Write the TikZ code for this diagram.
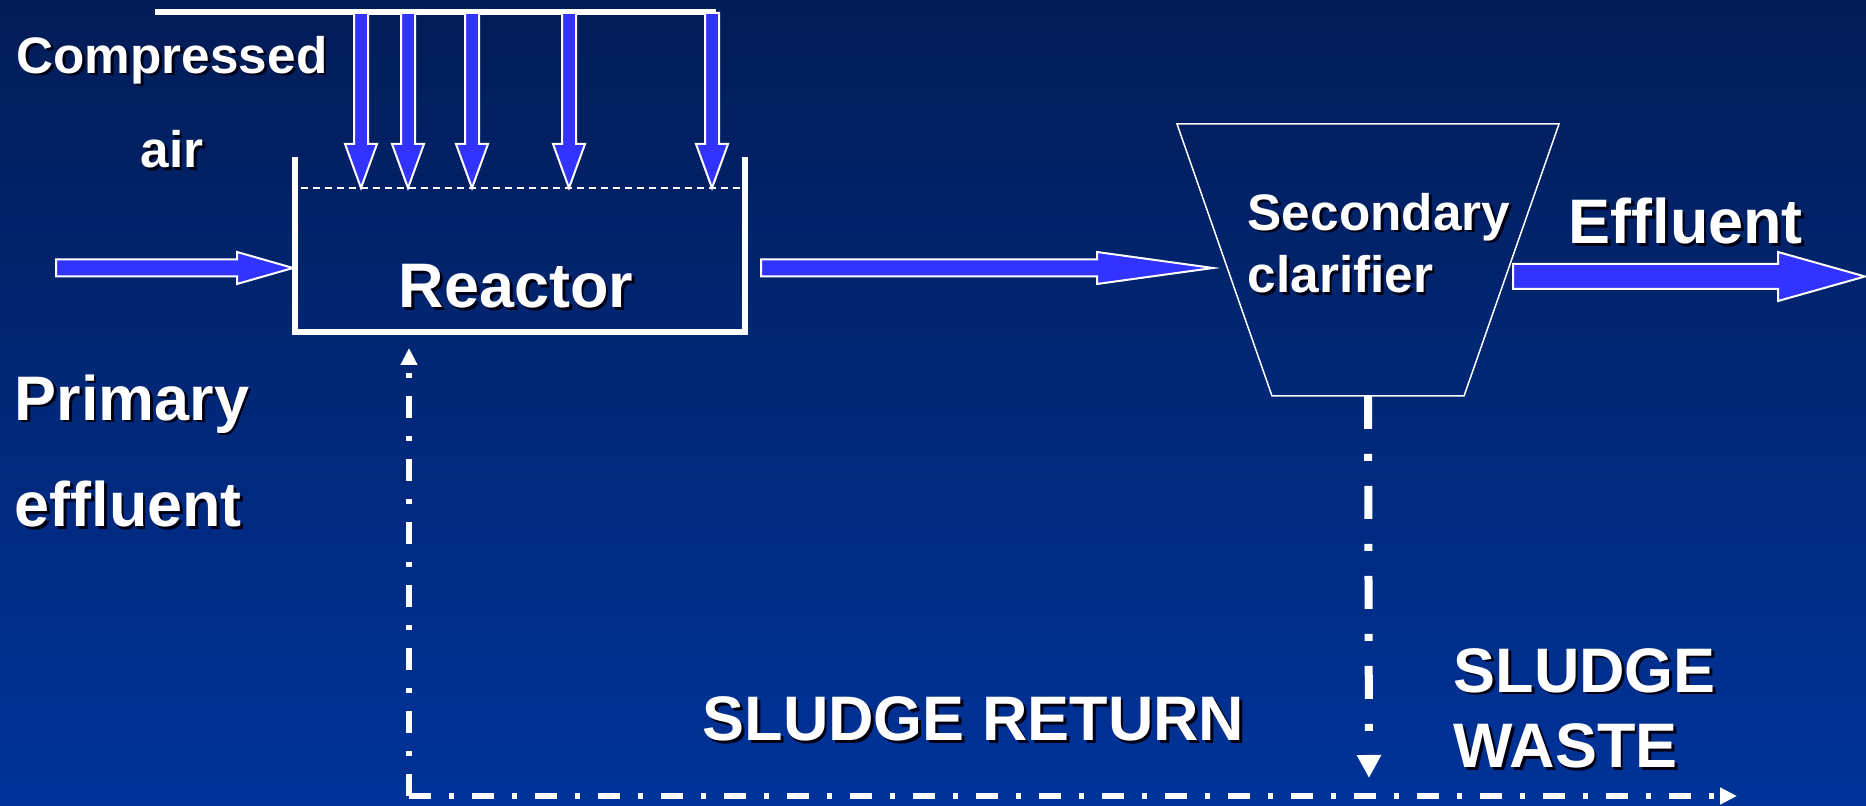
\documentclass[tikz,border=0pt]{standalone}
\usepackage{fontspec}
\setmainfont{Liberation Sans}
\usetikzlibrary{calc,arrows.meta}

\definecolor{bgtop}{RGB}{2,28,86}
\definecolor{bgbot}{RGB}{0,51,153}
\definecolor{airblue}{RGB}{51,51,255}
\definecolor{txtshadow}{RGB}{0,0,20}

% white text with a small dark drop shadow
\newcommand{\shd}[1]{\makebox[0pt][l]{\kern0.8pt\raisebox{-0.8pt}{\textcolor{txtshadow}{#1}}}#1}

% fat blue arrow: from, to, half shaft, half head, head length
\newcommand{\flowarrow}[5]{%
  \path ($(#2)!#5!(#1)$) coordinate (fa-hb);
  \filldraw[flow] ($(#1)!#3!90:(#2)$) -- ($(fa-hb)!#3!90:(#2)$) -- ($(fa-hb)!#4!90:(#2)$) -- (#2)
    -- ($(fa-hb)!#4!-90:(#2)$) -- ($(fa-hb)!#3!-90:(#2)$) -- ($(#1)!#3!-90:(#2)$) -- cycle;}

\begin{document}
\begin{tikzpicture}[x=0.1mm,y=-0.1mm]
  \tikzstyle{flow}=[fill=airblue,draw=white,line width=0.2mm,line join=miter]
  \tikzstyle{wall}=[draw=white,line width=0.6mm]
  \tikzstyle{tank}=[minimum width=45mm,minimum height=17.5mm,inner sep=0pt,outer sep=0pt]
  \tikzstyle{clarbox}=[minimum width=38.2mm,minimum height=27.2mm,inner sep=0pt,outer sep=0pt]
  \tikzstyle{small}=[text=white,inner sep=0pt]
  \tikzstyle{returnline}=[white,line width=0.6mm,dash pattern=on 2.2mm off 1.8mm on 0.5mm off 1.8mm,
      -{Triangle[length=1.7mm,width=1.6mm]}]
  \tikzstyle{wasteline}=[white,line width=0.8mm,dash pattern=on 3.3mm off 2.5mm on 0.7mm off 2.5mm,
      -{Triangle[length=2.3mm,width=2.3mm]}]

  % background
  \useasboundingbox (0,0) rectangle (1866,806);
  \shade[top color=bgtop,bottom color=bgbot] (0,0) rectangle (1866,806);

  % reactor tank, open at the top
  \node[tank] (reactor) at (520,244.5) {};
  \draw[wall] (reactor.north west) -- (reactor.south west) -- (reactor.south east) -- (reactor.north east);
  \draw[white,line width=0.15mm,dash pattern=on 0.7mm off 0.5mm] (301,188) -- (740,188);
  \node[small,anchor=base,font={\bfseries\fontsize{17.9}{21}\selectfont}] (reactorlbl) at (516,308) {\shd{Reactor}};

  % compressed air header and diffusers
  \coordinate (hdrstart) at (155,12);
  \coordinate (hdrend) at (716,12);
  \draw[wall] (hdrstart) -- (hdrend);
  \foreach \x in {361,408,472,569,712} {
    \coordinate (airtop) at (\x,13);
    \coordinate (airtip) at (\x,188);
    \flowarrow{airtop}{airtip}{0.7mm}{1.6mm}{4.4mm}
  }
  % (multi-line nodes sit on the baseline of their last line)
  \node[small,anchor=base,align=center,font={\bfseries\fontsize{14.6}{27}\selectfont}] (airlbl) at (172,168)
    {\shd{Compressed}\\\shd{air}};

  % primary effluent in
  \coordinate (feed) at (56,268);
  \coordinate (feedtip) at (293,268);
  \flowarrow{feed}{feedtip}{0.85mm}{1.6mm}{5.6mm}
  \node[small,anchor=base west,align=left,font={\bfseries\fontsize{17.9}{30.4}\selectfont}] (feedlbl) at (14,527)
    {\shd{Primary}\\\shd{effluent}};

  % secondary clarifier (wide at the top)
  \node[clarbox] (clar) at (1368,260) {};
  \draw[white,line width=0.15mm] (clar.north west) -- (clar.north east) -- ($(clar.south east)+(-95,0)$)
    -- ($(clar.south west)+(95,0)$) -- cycle;
  \node[small,anchor=base west,align=left,font={\bfseries\fontsize{14.6}{17.9}\selectfont}] (clarlbl) at (1247,293)
    {\shd{Secondary}\\\shd{clarifier}};
  \coordinate (mixout) at (761,268);
  \coordinate (clarin) at (1213,268);
  \flowarrow{mixout}{clarin}{0.85mm}{1.6mm}{11.6mm}

  % final effluent
  \coordinate (effout) at (1513,276.5);
  \coordinate (effend) at (1865,276.5);
  \flowarrow{effout}{effend}{1.25mm}{2.45mm}{8.7mm}
  \node[small,anchor=base west,font={\bfseries\fontsize{17.9}{21}\selectfont}] (efflbl) at (1568,244) {\shd{Effluent}};

  % sludge return and waste
  \coordinate (corner) at (409,796);
  \coordinate (retin) at (409,348);
  \coordinate (wasteend) at (1737,796);
  \coordinate (wastein) at (1369,778);
  \draw[returnline] (corner) -- (retin);
  \draw[returnline] (corner) -- (wasteend);
  \draw[wasteline] (clar.south) -- (wastein);
  \node[small,anchor=base west,font={\bfseries\fontsize{17.9}{21}\selectfont}] (retlbl) at (702,741) {\shd{SLUDGE RETURN}};
  \node[small,anchor=base west,align=left,font={\bfseries\fontsize{17.9}{21.6}\selectfont}] (wastelbl) at (1453,768)
    {\shd{SLUDGE}\\\shd{WASTE}};
\end{tikzpicture}
\end{document}
